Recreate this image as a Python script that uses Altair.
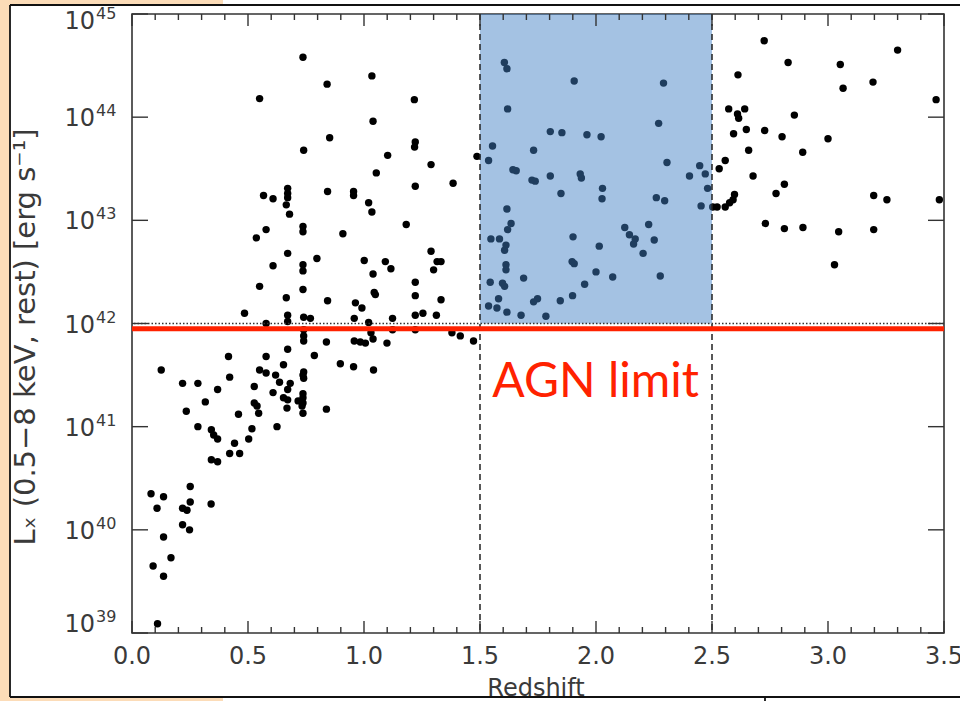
import altair as alt
import pandas as pd

# ---------------- data ----------------
z_low = [0.737, 0.550, 0.740, 0.567, 0.608, 0.671, 0.671, 0.671, 0.665, 0.679,
         0.737, 0.737, 0.578, 0.536, 0.671, 0.608, 0.737, 0.737, 0.797, 0.550,
         0.737, 0.665, 0.485, 0.671, 0.671, 0.740, 0.769, 0.578, 0.740, 0.740,
         0.740, 0.671, 0.416, 0.578, 0.786, 0.126, 0.653, 0.550, 0.578, 0.740,
         0.740, 0.421, 0.619, 0.218, 0.284, 0.636, 0.682, 0.671, 0.369, 0.527,
         0.608, 0.737, 0.737, 0.316, 0.653, 0.671, 0.716, 0.527, 0.539, 0.737,
         0.733, 0.234, 0.668, 0.546, 0.737, 0.459, 0.284, 0.625, 0.517, 0.342,
         0.352, 0.369, 0.503, 0.442, 0.421, 0.464, 0.342, 0.369, 0.082, 0.136,
         0.108, 0.251, 0.251, 0.218, 0.237, 0.341, 0.218, 0.248, 0.136, 0.168,
         0.091, 0.136, 0.110, 0.737]
lx_low = [44.58, 44.18, 43.68, 43.24, 43.21, 43.31, 43.26, 43.22, 43.15, 43.06,
          42.94, 42.89, 42.91, 42.83, 42.68, 42.56, 42.57, 42.51, 42.63, 42.36,
          42.33, 42.25, 42.10, 42.08, 42.02, 42.06, 42.05, 42.00, 41.94, 41.88,
          41.83, 41.75, 41.68, 41.68, 41.69, 41.55, 41.60, 41.55, 41.52, 41.53,
          41.47, 41.48, 41.50, 41.42, 41.42, 41.43, 41.42, 41.36, 41.36, 41.39,
          41.33, 41.32, 41.28, 41.24, 41.28, 41.26, 41.25, 41.23, 41.20, 41.23,
          41.20, 41.15, 41.18, 41.13, 41.13, 41.12, 41.00, 41.00, 40.98, 40.97,
          40.92, 40.88, 40.88, 40.84, 40.74, 40.74, 40.68, 40.66, 40.35, 40.32,
          40.21, 40.42, 40.27, 40.21, 40.19, 40.25, 40.05, 40.00, 39.93, 39.73,
          39.65, 39.55, 39.09, 41.50]

z_mid = [0.841, 1.034, 1.217, 1.039, 0.852, 1.221, 1.218, 1.102, 1.289, 1.053,
         1.221, 1.384, 1.487, 0.843, 0.955, 0.955, 1.020, 1.034, 1.182, 0.909,
         1.001, 1.092, 1.116, 1.039, 1.289, 1.315, 1.332, 1.300, 0.843, 0.963,
         0.991, 1.044, 1.049, 1.221, 1.221, 1.332, 0.958, 1.123, 1.221, 1.254,
         1.312, 1.020, 1.123, 1.221, 0.838, 0.958, 0.984, 1.006, 1.030, 1.039,
         1.099, 1.379, 1.415, 1.472, 0.898, 0.955, 1.041, 0.838]
lx_mid = [44.32, 44.40, 44.17, 43.96, 43.80, 43.76, 43.71, 43.63, 43.54, 43.46,
          43.33, 43.36, 43.62, 43.28, 43.28, 43.24, 43.17, 43.08, 42.96, 42.87,
          42.61, 42.60, 42.53, 42.48, 42.70, 42.60, 42.60, 42.52, 42.22, 42.20,
          42.15, 42.30, 42.28, 42.40, 42.27, 42.23, 42.05, 42.05, 42.08, 42.10,
          42.08, 42.01, 41.94, 41.94, 41.82, 41.83, 41.82, 41.81, 41.91, 41.85,
          41.81, 41.91, 41.88, 41.83, 41.61, 41.58, 41.55, 41.17]

z_band = [1.605, 1.616, 1.906, 1.619, 1.803, 1.853, 1.961, 2.022, 1.554, 1.537,
          1.731, 1.642, 1.656, 1.724, 1.738, 1.803, 1.932, 1.937, 1.849, 2.028,
          2.026, 1.616, 1.634, 1.619, 2.124, 2.144, 1.547, 1.584, 1.612, 1.606,
          1.901, 2.014, 1.612, 1.612, 1.897, 1.906, 1.688, 1.544, 1.597, 1.606,
          2.000, 2.072, 1.951, 1.580, 1.537, 1.573, 1.616, 1.677, 1.731, 1.748,
          1.784, 1.846, 1.899, 2.291, 2.270, 2.306, 2.403, 2.447, 2.471, 2.481,
          2.260, 2.296, 2.453, 2.169, 2.162, 2.227, 2.251, 2.203, 2.277]
lx_band = [44.53, 44.47, 44.35, 44.08, 43.86, 43.85, 43.83, 43.81, 43.72, 43.58,
           43.68, 43.49, 43.48, 43.39, 43.38, 43.43, 43.45, 43.41, 43.26, 43.31,
           43.21, 43.11, 42.97, 42.91, 42.93, 42.86, 42.82, 42.82, 42.76, 42.71,
           42.84, 42.75, 42.57, 42.52, 42.60, 42.58, 42.44, 42.40, 42.39, 42.36,
           42.50, 42.45, 42.38, 42.24, 42.17, 42.15, 42.11, 42.08, 42.21, 42.24,
           42.07, 42.22, 42.27, 44.33, 43.94, 43.56, 43.43, 43.53, 43.45, 43.31,
           43.22, 43.19, 43.14, 42.82, 42.77, 42.96, 42.81, 42.68, 42.46]

z_high = [2.725, 2.828, 3.053, 3.300, 2.612, 3.065, 3.194, 3.466, 2.572, 2.641,
          2.610, 2.615, 2.855, 2.593, 2.648, 2.727, 2.802, 3.000, 2.658, 2.891,
          2.557, 2.531, 2.677, 2.812, 2.776, 2.597, 2.591, 2.576, 2.557, 2.522,
          2.503, 3.197, 3.254, 3.480, 2.730, 2.812, 2.892, 3.046, 3.197, 3.028]
lx_high = [44.74, 44.53, 44.51, 44.65, 44.41, 44.28, 44.34, 44.17, 44.08, 44.08,
           44.03, 43.99, 44.02, 43.84, 43.88, 43.87, 43.81, 43.79, 43.68, 43.66,
           43.58, 43.50, 43.43, 43.35, 43.26, 43.25, 43.20, 43.17, 43.13, 43.13,
           43.13, 43.24, 43.20, 43.20, 42.97, 42.92, 42.93, 42.89, 42.91, 42.57]

# selection band, thresholds, annotation
band_z = [1.5, 2.5]
band_lx = [42.0, 45.0]
dotted_level = [42.0]
agn_limit_level = [41.95]
label_text = ["AGN limit"]
label_z = [1.553]
label_lx = [41.29]

# axes
x_major = [0.0, 0.5, 1.0, 1.5, 2.0, 2.5, 3.0, 3.5]
x_major_labels = ["0.0", "0.5", "1.0", "1.5", "2.0", "2.5", "3.0", "3.5"]
x_minor = [0.1, 0.2, 0.3, 0.4, 0.6, 0.7, 0.8, 0.9, 1.1, 1.2, 1.3, 1.4,
           1.6, 1.7, 1.8, 1.9, 2.1, 2.2, 2.3, 2.4, 2.6, 2.7, 2.8, 2.9,
           3.1, 3.2, 3.3, 3.4]
y_major = [39, 40, 41, 42, 43, 44, 45]
y_base = ["10", "10", "10", "10", "10", "10", "10"]
y_exp = ["39", "40", "41", "42", "43", "44", "45"]
x_title = ["Redshift"]
y_title = ["Lₓ (0.5−8 keV, rest) [erg s⁻¹]"]

# ---------------- chart ----------------
W, H = 812, 619
FONT = "DejaVu Sans"
TXT = "#3a3a3a"
BEIGE = "#fcdcb8"

df = pd.DataFrame({"z": z_low + z_mid + z_band + z_high,
                   "log_lx": lx_low + lx_mid + lx_band + lx_high})

xs = alt.Scale(domain=[0, 3.5], nice=False, zero=False)
ys = alt.Scale(domain=[39, 45], nice=False, zero=False)
one = pd.DataFrame({"k": [0]})


def deco_rect(x1, x2, y1, y2, color):
    return alt.Chart(one).mark_rect(color=color).encode(
        x=alt.value(x1), x2=alt.value(x2), y=alt.value(y1), y2=alt.value(y2))


def deco_line(x1, x2, y1, y2):
    return alt.Chart(one).mark_rule(color="#111111", strokeWidth=1.8).encode(
        x=alt.value(x1), x2=alt.value(x2), y=alt.value(y1), y2=alt.value(y2))


deco_back = (deco_rect(-132, -122, -14, 687, BEIGE)
             + deco_rect(-132, 91, -14, -9, BEIGE)
             + deco_rect(-132, 91, 683, 687, BEIGE))
deco_front = (deco_line(-122, 828, -9, -9)
              + deco_line(-122, -122, -9, 683)
              + deco_line(-122, 828, 683, 683)
              + deco_line(633, 633, 683, 687))

points = alt.Chart(df).mark_circle(size=55, color="black", opacity=1).encode(
    x=alt.X("z:Q", scale=xs, axis=None),
    y=alt.Y("log_lx:Q", scale=ys, axis=None),
)

band = alt.Chart(pd.DataFrame({"z1": [band_z[0]], "z2": [band_z[1]],
                               "l1": [band_lx[0]], "l2": [band_lx[1]]})).mark_rect(
    color="#417fc4", opacity=0.48).encode(
    x=alt.X("z1:Q", scale=xs, axis=None), x2="z2:Q",
    y=alt.Y("l1:Q", scale=ys, axis=None), y2="l2:Q")

dashed = alt.Chart(pd.DataFrame({"z": band_z})).mark_rule(
    color="#222222", strokeWidth=1.5, strokeDash=[6, 4]).encode(
    x=alt.X("z:Q", scale=xs, axis=None))

dotted = alt.Chart(pd.DataFrame({"l": dotted_level})).mark_rule(
    color="#333333", strokeWidth=1.3, strokeDash=[1.5, 2]).encode(
    y=alt.Y("l:Q", scale=ys, axis=None))

red = alt.Chart(pd.DataFrame({"l": agn_limit_level})).mark_rule(
    color="#ff2200", strokeWidth=5).encode(
    y=alt.Y("l:Q", scale=ys, axis=None))


def xticks(vals, y1, y2):
    return alt.Chart(pd.DataFrame({"t": vals})).mark_rule(color="#333333", strokeWidth=1.4).encode(
        x=alt.X("t:Q", scale=xs, axis=None), y=alt.value(y1), y2=alt.value(y2))


def yticks(vals, x1, x2):
    return alt.Chart(pd.DataFrame({"t": vals})).mark_rule(color="#333333", strokeWidth=1.4).encode(
        y=alt.Y("t:Q", scale=ys, axis=None), x=alt.value(x1), x2=alt.value(x2))


ticks = (xticks(x_major, H - 12, H) + xticks(x_minor, H - 6, H)
         + xticks(x_major, 0, 12) + xticks(x_minor, 0, 6)
         + yticks(y_major, 0, 16) + yticks(y_major, W - 16, W))

# tick labels and titles as text
xlab = alt.Chart(pd.DataFrame({"t": x_major, "s": x_major_labels})).mark_text(
    font=FONT, fontSize=24, color=TXT, align="center", baseline="middle").encode(
    x=alt.X("t:Q", scale=xs, axis=None), y=alt.value(H + 24), text="s:N")

ydf = pd.DataFrame({"t": y_major, "b": y_base, "e": y_exp})
ydf_bottom = ydf.iloc[:1]
ydf_mid = ydf.iloc[1:-1]
ydf_top = ydf.iloc[-1:]


def ylabels(frame, dy_base, dy_exp):
    base = alt.Chart(frame).mark_text(
        font=FONT, fontSize=24, color=TXT, align="right", baseline="middle", dy=dy_base).encode(
        y=alt.Y("t:Q", scale=ys, axis=None), x=alt.value(-37), text="b:N")
    exp = alt.Chart(frame).mark_text(
        font=FONT, fontSize=16, color=TXT, align="left", baseline="middle", dy=dy_exp).encode(
        y=alt.Y("t:Q", scale=ys, axis=None), x=alt.value(-36), text="e:N")
    return base + exp


ylab = ylabels(ydf_mid, 2, -6) + ylabels(ydf_bottom, -8, -16) + ylabels(ydf_top, 8, 0)

xtitle = alt.Chart(pd.DataFrame({"s": x_title})).mark_text(
    font=FONT, fontSize=24, color=TXT, align="center", baseline="alphabetic").encode(
    x=alt.value(W / 2 - 2), y=alt.value(682), text="s:N")

ytitle = alt.Chart(pd.DataFrame({"s": y_title})).mark_text(
    font=FONT, fontSize=29, color=TXT, align="center", baseline="middle", angle=270).encode(
    x=alt.value(-106), y=alt.value(323), text="s:N")

label = alt.Chart(pd.DataFrame({"z": label_z, "l": label_lx, "t": label_text})).mark_text(
    align="left", baseline="alphabetic", font="Lato", fontSize=48, color="#ff2200").encode(
    x=alt.X("z:Q", scale=xs, axis=None), y=alt.Y("l:Q", scale=ys, axis=None), text="t:N")

chart = alt.layer(deco_back, points, band, dashed, dotted, red, ticks,
                  xlab, ylab, xtitle, ytitle, label, deco_front).properties(
    width=W, height=H, autosize="none",
    padding={"left": 132, "top": 14, "right": 16, "bottom": 68},
    background="white",
).configure_view(stroke="#333333", strokeWidth=1.6)

chart.save("out.html", embed_options={"renderer": "svg", "actions": False})
